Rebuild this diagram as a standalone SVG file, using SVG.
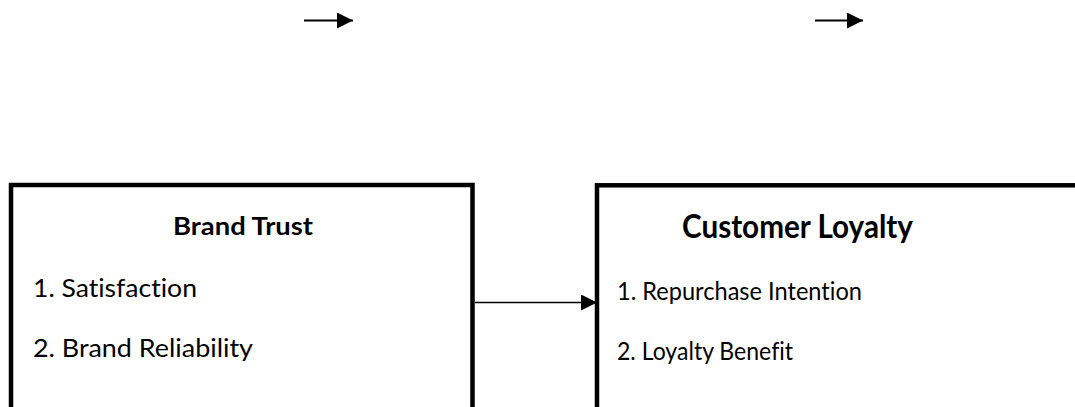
<svg xmlns="http://www.w3.org/2000/svg" width="1075" height="407" viewBox="0 0 1075 407">
<style>
.box{fill:#fff;stroke:#000;stroke-width:4.5}
.t{font-family:Lato,"Liberation Sans",sans-serif;fill:#000;font-size:25px;font-variant-ligatures:none}
.b{font-weight:bold}
.ln{stroke:#000;fill:none}
</style>
<defs>
<marker id="ah" markerUnits="userSpaceOnUse" markerWidth="17" markerHeight="17" refX="16" refY="8" orient="auto">
<path d="M0,0 L16,8 L0,16 Z" fill="#000"/>
</marker>
</defs>
<rect width="1075" height="407" fill="#fff"/>
<g id="brand-trust">
<rect class="box" x="11" y="185" width="461.5" height="240"/>
<text class="t b" x="173" y="235" style="font-size:24px" textLength="140" lengthAdjust="spacingAndGlyphs">Brand Trust</text>
<text class="t" x="33" y="297" textLength="164" lengthAdjust="spacingAndGlyphs">1. Satisfaction</text>
<text class="t" x="33" y="357" textLength="220" lengthAdjust="spacingAndGlyphs">2. Brand Reliability</text>
</g>
<g id="customer-loyalty">
<rect class="box" x="597" y="185.3" width="500" height="240"/>
<text class="t b" x="682" y="238" style="font-size:32px" textLength="231" lengthAdjust="spacingAndGlyphs">Customer Loyalty</text>
<text class="t" x="617" y="300" textLength="245" lengthAdjust="spacingAndGlyphs">1. Repurchase Intention</text>
<text class="t" x="617" y="360" textLength="176" lengthAdjust="spacingAndGlyphs">2. Loyalty Benefit</text>
</g>
<g id="connectors">
<line class="ln" x1="475" y1="302.5" x2="597" y2="302.5" stroke-width="1.5" marker-end="url(#ah)"/>
<line class="ln" x1="304" y1="20.5" x2="353" y2="20.5" stroke-width="2" marker-end="url(#ah)"/>
<line class="ln" x1="815" y1="20.5" x2="863" y2="20.5" stroke-width="2" marker-end="url(#ah)"/>
</g>
</svg>
